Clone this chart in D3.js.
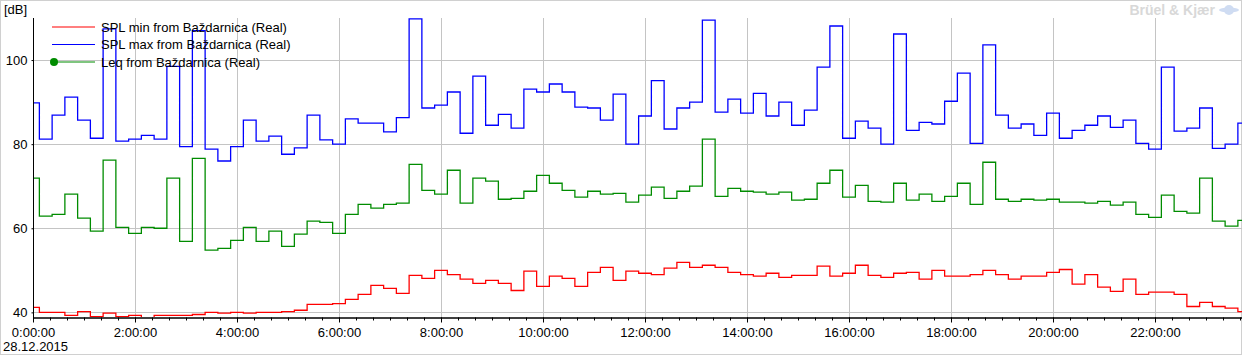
<!DOCTYPE html>
<html>
<head>
<meta charset="utf-8">
<script src="https://cdn.jsdelivr.net/npm/d3@7"></script>
<style>
  body { margin:0; background:#fff; }
  svg { display:block; font-family:"Liberation Sans", Arial, sans-serif; }
  .axis text { font-size:13px; fill:#000; }
  .axis path, .axis line { stroke:#000; }
</style>
</head>
<body>
<div id="chart_box"></div>
<script>
  //globals
  var width = 1242
  var height = 356
  var plotLeft = 33, plotTop = 18, plotBottom = 317
  var pxPerHour = 51

  // data: one value every 15 minutes from 0:00:00
  var startTime = new Date(2015, 11, 28, 0, 0, 0)
  var stepMinutes = 15
  var splMin = [41.2,40.0,40.0,39.3,40.2,39.0,39.8,39.0,39.3,38.5,
    39.3,39.3,39.3,39.5,40.0,39.8,40.0,39.8,40.0,40.0,
    40.2,40.5,41.9,41.9,42.1,43.1,44.3,46.4,45.7,44.5,
    48.8,48.1,50.0,49.0,47.9,46.9,47.6,46.9,45.2,49.8,
    46.2,48.6,48.1,46.2,49.5,50.7,47.6,49.8,49.3,49.0,
    50.5,51.9,50.7,51.2,50.7,49.5,49.0,48.6,49.3,48.3,
    48.8,48.8,51.0,48.6,49.3,51.2,48.8,48.3,49.3,49.5,
    47.9,50.0,48.6,48.6,49.0,50.0,49.0,47.9,48.6,48.6,
    49.5,50.2,46.7,49.0,46.0,45.0,47.9,44.3,44.8,44.8,
    44.3,41.4,42.4,41.4,41.0,40.2]
  var splMax = [89.8,81.2,86.9,91.2,85.7,81.4,107.4,80.7,81.2,82.1,
    81.2,98.5,79.4,107.0,78.8,76.0,79.4,85.7,80.7,81.9,
    77.6,79.1,86.9,81.0,80.0,86.0,85.0,85.0,82.9,86.3,
    109.8,88.6,89.3,92.4,82.6,96.2,84.5,87.1,83.8,93.1,
    92.4,94.3,92.4,88.8,88.6,85.7,91.9,80.0,86.7,95.1,
    83.6,88.6,90.0,109.5,87.6,90.7,87.4,92.1,86.7,90.0,
    84.5,88.1,98.3,108.1,81.4,85.5,83.8,80.0,106.2,83.3,
    85.2,84.8,90.2,96.9,80.2,103.6,86.9,83.8,84.8,82.1,
    87.4,81.4,83.3,84.5,86.7,84.0,85.7,80.2,78.8,98.3,
    83.1,83.8,88.6,79.0,80.0,85.0]
  var leq = [71.9,62.9,63.3,68.1,62.4,59.3,76.2,60.2,58.8,60.2,
    60.0,71.9,56.9,76.6,54.8,55.2,57.1,60.2,56.9,59.3,
    55.7,58.6,61.7,61.4,58.8,63.3,65.7,64.8,65.7,66.0,
    75.2,69.0,68.1,73.8,66.0,71.9,71.2,66.9,67.1,68.8,
    72.6,70.7,69.0,67.4,68.8,68.1,68.3,66.2,67.9,69.8,
    67.1,68.8,70.0,81.2,67.6,69.5,68.8,68.6,68.1,68.6,
    66.7,66.9,70.7,73.8,67.4,70.2,66.4,66.2,70.7,66.7,
    68.1,66.4,67.6,70.7,65.7,75.7,66.9,66.4,66.9,66.7,
    66.9,66.2,66.2,66.0,66.4,65.5,66.2,63.3,62.6,67.9,
    64.0,63.6,71.9,61.7,60.5,61.9]
  var seriesNames = ['SPL min from Baždarnica (Real)', 'SPL max from Baždarnica (Real)', 'Leq from Baždarnica (Real)']
  var seriesColors = ['#ff0000', '#0000ff', '#008c00']
  var yTicks = [40, 60, 80, 100]
  var yUnit = '[dB]'
  var dateLabel = '28.12.2015'
  var brand = 'Brüel & Kjær'

  var hour = 3600 * 1000
  var xscale = d3.scaleTime()
    .domain([startTime, new Date(+startTime + 24 * hour)])
    .range([plotLeft, plotLeft + pxPerHour * 24])
  var yscale = d3.scaleLinear()
    .domain([38.9, 110])
    .range([plotBottom, plotTop])

  var svg = d3.select('#chart_box').append('svg')
    .attr('width', width).attr('height', height)

  // outer frame
  svg.append('rect')
    .attr('x', 0.5).attr('y', 0.5).attr('width', width - 1).attr('height', 354)
    .attr('fill', 'none').attr('stroke', '#d0d0d0')

  svg.append('defs').append('clipPath').attr('id', 'plotclip')
    .append('rect')
    .attr('x', plotLeft).attr('y', plotTop)
    .attr('width', width - plotLeft).attr('height', plotBottom - plotTop)

  var majorTimes = d3.range(0, 24, 2).map(function(h){ return new Date(+startTime + h * hour) })
  var minorTimes = d3.range(0, 24 * 3).map(function(k){ return new Date(+startTime + k * hour / 3) })

  // gridlines
  svg.selectAll('line.vgrid').data(majorTimes.slice(1)).enter().append('line')
    .attr('class', 'vgrid')
    .attr('x1', function(d){ return Math.round(xscale(d)) + 0.5 }).attr('x2', function(d){ return Math.round(xscale(d)) + 0.5 })
    .attr('y1', plotTop).attr('y2', plotBottom)
    .attr('stroke', '#c4c4c4')
  svg.selectAll('line.hgrid').data(yTicks).enter().append('line')
    .attr('class', 'hgrid')
    .attr('x1', plotLeft).attr('x2', width)
    .attr('y1', function(d){ return Math.round(yscale(d)) + 0.5 }).attr('y2', function(d){ return Math.round(yscale(d)) + 0.5 })
    .attr('stroke', '#c4c4c4')

  // series
  var allSeries = [splMin, splMax, leq]
  var line = d3.line()
    .x(function(d, i){ return xscale(new Date(+startTime + i * stepMinutes * 60000)) })
    .y(function(d){ return yscale(d) })
    .curve(d3.curveStep)
  svg.append('g').attr('clip-path', 'url(#plotclip)')
    .selectAll('path').data(allSeries).enter().append('path')
    .attr('d', function(d){ return line(d) })
    .attr('fill', 'none')
    .attr('stroke', function(d, i){ return seriesColors[i] })
    .attr('stroke-width', 1.3)

  // axes
  var fmt = d3.timeFormat('%-H:%M:%S')
  svg.append('g').attr('class', 'axis')
    .attr('transform', 'translate(0,' + (plotBottom + 0.5) + ')')
    .call(d3.axisBottom(xscale).tickValues(minorTimes).tickSize(3).tickSizeOuter(0).tickFormat(''))
  svg.append('g').attr('class', 'axis')
    .attr('transform', 'translate(0,' + (plotBottom + 0.5) + ')')
    .call(d3.axisBottom(xscale).tickValues(majorTimes).tickSize(5).tickSizeOuter(0).tickFormat(fmt))
    .call(function(g){ g.selectAll('text').attr('dy', '0.9em') })
  svg.append('g').attr('class', 'axis')
    .attr('transform', 'translate(' + (plotLeft + 0.5) + ',0)')
    .call(d3.axisLeft(yscale).tickValues(yTicks).tickSize(2).tickSizeOuter(0).tickPadding(4))
    .call(function(g){ g.select('.domain').attr('d', 'M0,' + plotTop + 'V' + (plotBottom + 1)) })

  svg.append('text').attr('x', 4).attr('y', 14).attr('font-size', 13).text(yUnit)
  svg.append('text').attr('x', 3).attr('y', 351).attr('font-size', 13).text(dateLabel)

  // legend
  var legend = svg.append('g')
  var rows = legend.selectAll('g').data(seriesNames).enter().append('g')
    .attr('transform', function(d, i){ return 'translate(0,' + [27, 44.5, 62][i] + ')' })
  rows.append('line')
    .attr('x1', 52).attr('x2', 95)
    .attr('stroke', function(d, i){ return seriesColors[i] })
    .attr('stroke-width', 1.2)
  rows.filter(function(d, i){ return i == 2 }).append('circle')
    .attr('cx', 54).attr('cy', 0).attr('r', 4)
    .attr('fill', seriesColors[2])
  rows.append('text')
    .attr('x', 101).attr('dy', '0.35em').attr('font-size', 13)
    .text(function(d){ return d })

  // brand mark
  var logo = svg.append('g').attr('transform', 'translate(1229,10)')
  logo.append('ellipse').attr('rx', 10).attr('ry', 2.5).attr('fill', '#cfdcf2')
  logo.append('ellipse').attr('rx', 5).attr('ry', 5).attr('fill', '#cfdcf2')
  svg.append('text').attr('x', 1215).attr('y', 15)
    .attr('text-anchor', 'end')
    .attr('font-size', 14).attr('font-weight', 'bold').attr('fill', '#d8d8d8')
    .text(brand)
</script>
</body>
</html>
